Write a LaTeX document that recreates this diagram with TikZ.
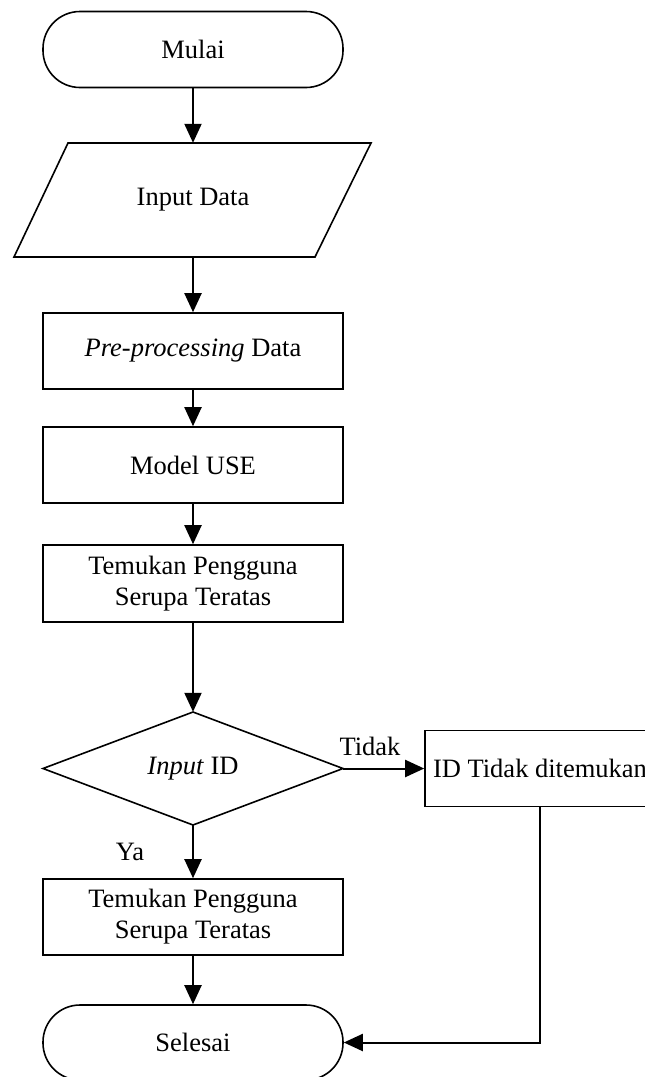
\documentclass[tikz,border=0pt]{standalone}
\usepackage{fontspec}
\setmainfont{Liberation Serif}
\usetikzlibrary{arrows.meta}
\begin{document}
\begin{tikzpicture}[x=1pt,y=-1pt, font=\fontsize{26.5}{31}\selectfont,
  outl/.style={draw, line width=1.6pt},
  term/.style={outl, rectangle, rounded corners=37pt, minimum width=300pt, minimum height=76pt},
  proc/.style={outl, rectangle, minimum width=300pt, minimum height=76pt, align=center, inner sep=0pt},
  ghost/.style={rectangle, inner sep=0pt},
  arr/.style={line width=2pt, -{Triangle[length=19pt,width=17pt]}}]
\useasboundingbox (0,0) rectangle (645,1077);
\clip (0,0) rectangle (645,1077);
% start
\node[term] (start) at (193,49.5) {Mulai};
% input (parallelogram)
\draw[outl, line join=miter] (68,143) -- (371,143) -- (315,257) -- (14,257) -- cycle;
\node[ghost, minimum width=300pt, minimum height=114pt] (in) at (193,200) {Input Data};
% processes
\node[proc] (pre) at (193,351) {\textit{Pre-processing} Data};
\node[proc] (model) at (193,465) {Model USE};
\node[proc, minimum height=77pt] (tem1) at (193,583.5) {Temukan Pengguna\\Serupa Teratas};
% decision
\draw[outl, line join=miter] (193,712) -- (343,768.5) -- (193,825) -- (43,768.5) -- cycle;
\node[ghost, minimum width=300pt, minimum height=113pt] (dec) at (193,768.5) {\textit{Input} ID};
% not found
\node[proc, minimum width=230pt] (id) at (540,768.5) {ID Tidak ditemukan};
% second find
\node[proc] (tem2) at (193,917) {Temukan Pengguna\\Serupa Teratas};
% end
\node[term, minimum height=75pt] (stop) at (193,1042.5) {Selesai};
% labels
\node (tidak) at (370,746) {Tidak};
\node (ya) at (130,852) {Ya};
% connectors
\draw[arr] (start.south) -- (in.north);
\draw[arr] (in.south) -- (pre.north);
\draw[arr] (pre.south) -- (model.north);
\draw[arr] (model.south) -- (tem1.north);
\draw[arr] (tem1.south) -- (dec.north);
\draw[arr] (dec.east) -- (id.west);
\draw[arr] (dec.south) -- (tem2.north);
\draw[arr] (tem2.south) -- (stop.north);
\draw[arr] (id.south) |- (stop.east);
\end{tikzpicture}
\end{document}
